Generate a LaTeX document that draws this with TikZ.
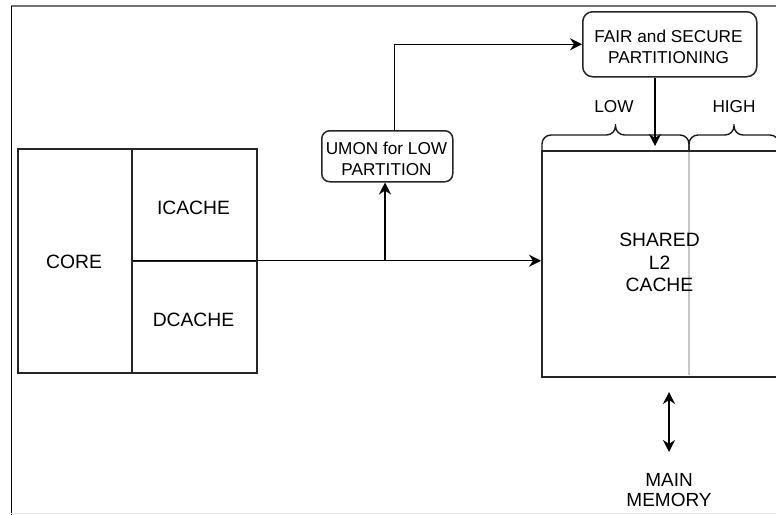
\documentclass[tikz,border=0pt]{standalone}
\usepackage{fontspec}
\setmainfont{Liberation Sans}
\usetikzlibrary{arrows.meta}
\tikzset{
  box/.style={draw=black!85, line width=1.5pt, inner sep=0pt, anchor=north west},
  rbox/.style={box, rounded corners=9pt},
  biglbl/.style={inner sep=0pt, align=center, font=\fontsize{19.3}{22.5}\selectfont},
  memlbl/.style={inner sep=0pt, align=center, font=\fontsize{19}{20}\selectfont},
  smalllbl/.style={inner sep=0pt, align=center, font=\fontsize{17.2}{21}\selectfont},
  tip/.style={Stealth[length=12pt,width=12pt,inset=4pt]},
  link/.style={line width=1.4pt, -{Stealth[length=12pt,width=12pt,inset=4pt]}},
  bothlink/.style={line width=1.4pt, {Stealth[length=12pt,width=12pt,inset=4pt]}-{Stealth[length=12pt,width=12pt,inset=4pt]}},
  curly/.style={line width=1.4pt, black!90},
}
\begin{document}
\begin{tikzpicture}[x=1pt,y=1pt]
\useasboundingbox (0,0) rectangle (776,-514);
\clip (0,0) rectangle (776,-514);

% outer frame
\draw[black!55, line width=1.5pt] (11.3,-6) -- (777,-6);
\draw[black, line width=1.5pt] (11.3,-6) -- (11.3,-515);
\draw[black!10, line width=1pt] (11.3,-513.5) -- (777,-513.5);

% processor side
\node[box, minimum width=114pt, minimum height=224pt] (core) at (17,-148) {};
\node[box, minimum width=125pt, minimum height=112pt] (icache) at (131,-148) {};
\node[box, minimum width=125pt, minimum height=112pt] (dcache) at (131,-260) {};
\node[biglbl] (coretxt) at (74,-262.2) {CORE};
\node[biglbl] (icachetxt) at (193.5,-208.3) {ICACHE};
\node[biglbl] (dcachetxt) at (193.5,-320.3) {DCACHE};

% shared cache with its two partitions
\draw[black!22, line width=1.4pt] (689,-150.8) -- (689,-375.2);
\node[box, minimum width=237pt, minimum height=226pt] (l2) at (541,-150) {};
\node[biglbl] (l2txt) at (659.5,-262.5) {SHARED\\L2\\CACHE};

% partition braces
\draw[curly] (542,-150) -- (542,-144) arc[start angle=180, end angle=90, radius=9]
  -- (606.5,-135) arc[start angle=270, end angle=360, radius=9] -- (615.5,-124)
  -- (615.5,-126) arc[start angle=180, end angle=270, radius=9]
  -- (680,-135) arc[start angle=90, end angle=0, radius=9] -- (689,-150);
\draw[curly] (689,-150) -- (689,-144) arc[start angle=180, end angle=90, radius=9]
  -- (725,-135) arc[start angle=270, end angle=360, radius=9] -- (734,-124)
  -- (734,-126) arc[start angle=180, end angle=270, radius=9]
  -- (770,-135) arc[start angle=90, end angle=0, radius=9] -- (779,-150);
\node[smalllbl] (lowtxt) at (614,-106.4) {LOW};
\node[smalllbl] (hightxt) at (734,-106.4) {HIGH};

% monitor and partitioning logic
\node[rbox, rounded corners=8pt, minimum width=131pt, minimum height=51pt] (umon) at (321,-130) {};
\node[smalllbl] (umontxt) at (386.5,-159) {UMON for LOW\\PARTITION};
\node[rbox, rounded corners=10pt, minimum width=174pt, minimum height=65pt] (fair) at (582,-11) {};
\node[smalllbl] (fairtxt) at (668.5,-46.7) {FAIR and SECURE\\PARTITIONING};

% main memory
\node[memlbl] (mem) at (669,-489.7) {MAIN\\MEMORY};
\coordinate (memhi) at (669,-392);
\coordinate (memlo) at (669,-452);

% connectors
\coordinate (tap) at (385,-260);
\coordinate (lowin) at (655,-146);
\draw[link] (core.east) -- (core.east -| l2.west);
\draw[link] (tap) -- (tap |- umon.south);
\draw[link] ([xshift=7pt]umon.north) |- (fair.west);
\draw[link] (fair.south -| lowin) -- (lowin);
\draw[bothlink] (memhi) -- (memlo);
\end{tikzpicture}
\end{document}
